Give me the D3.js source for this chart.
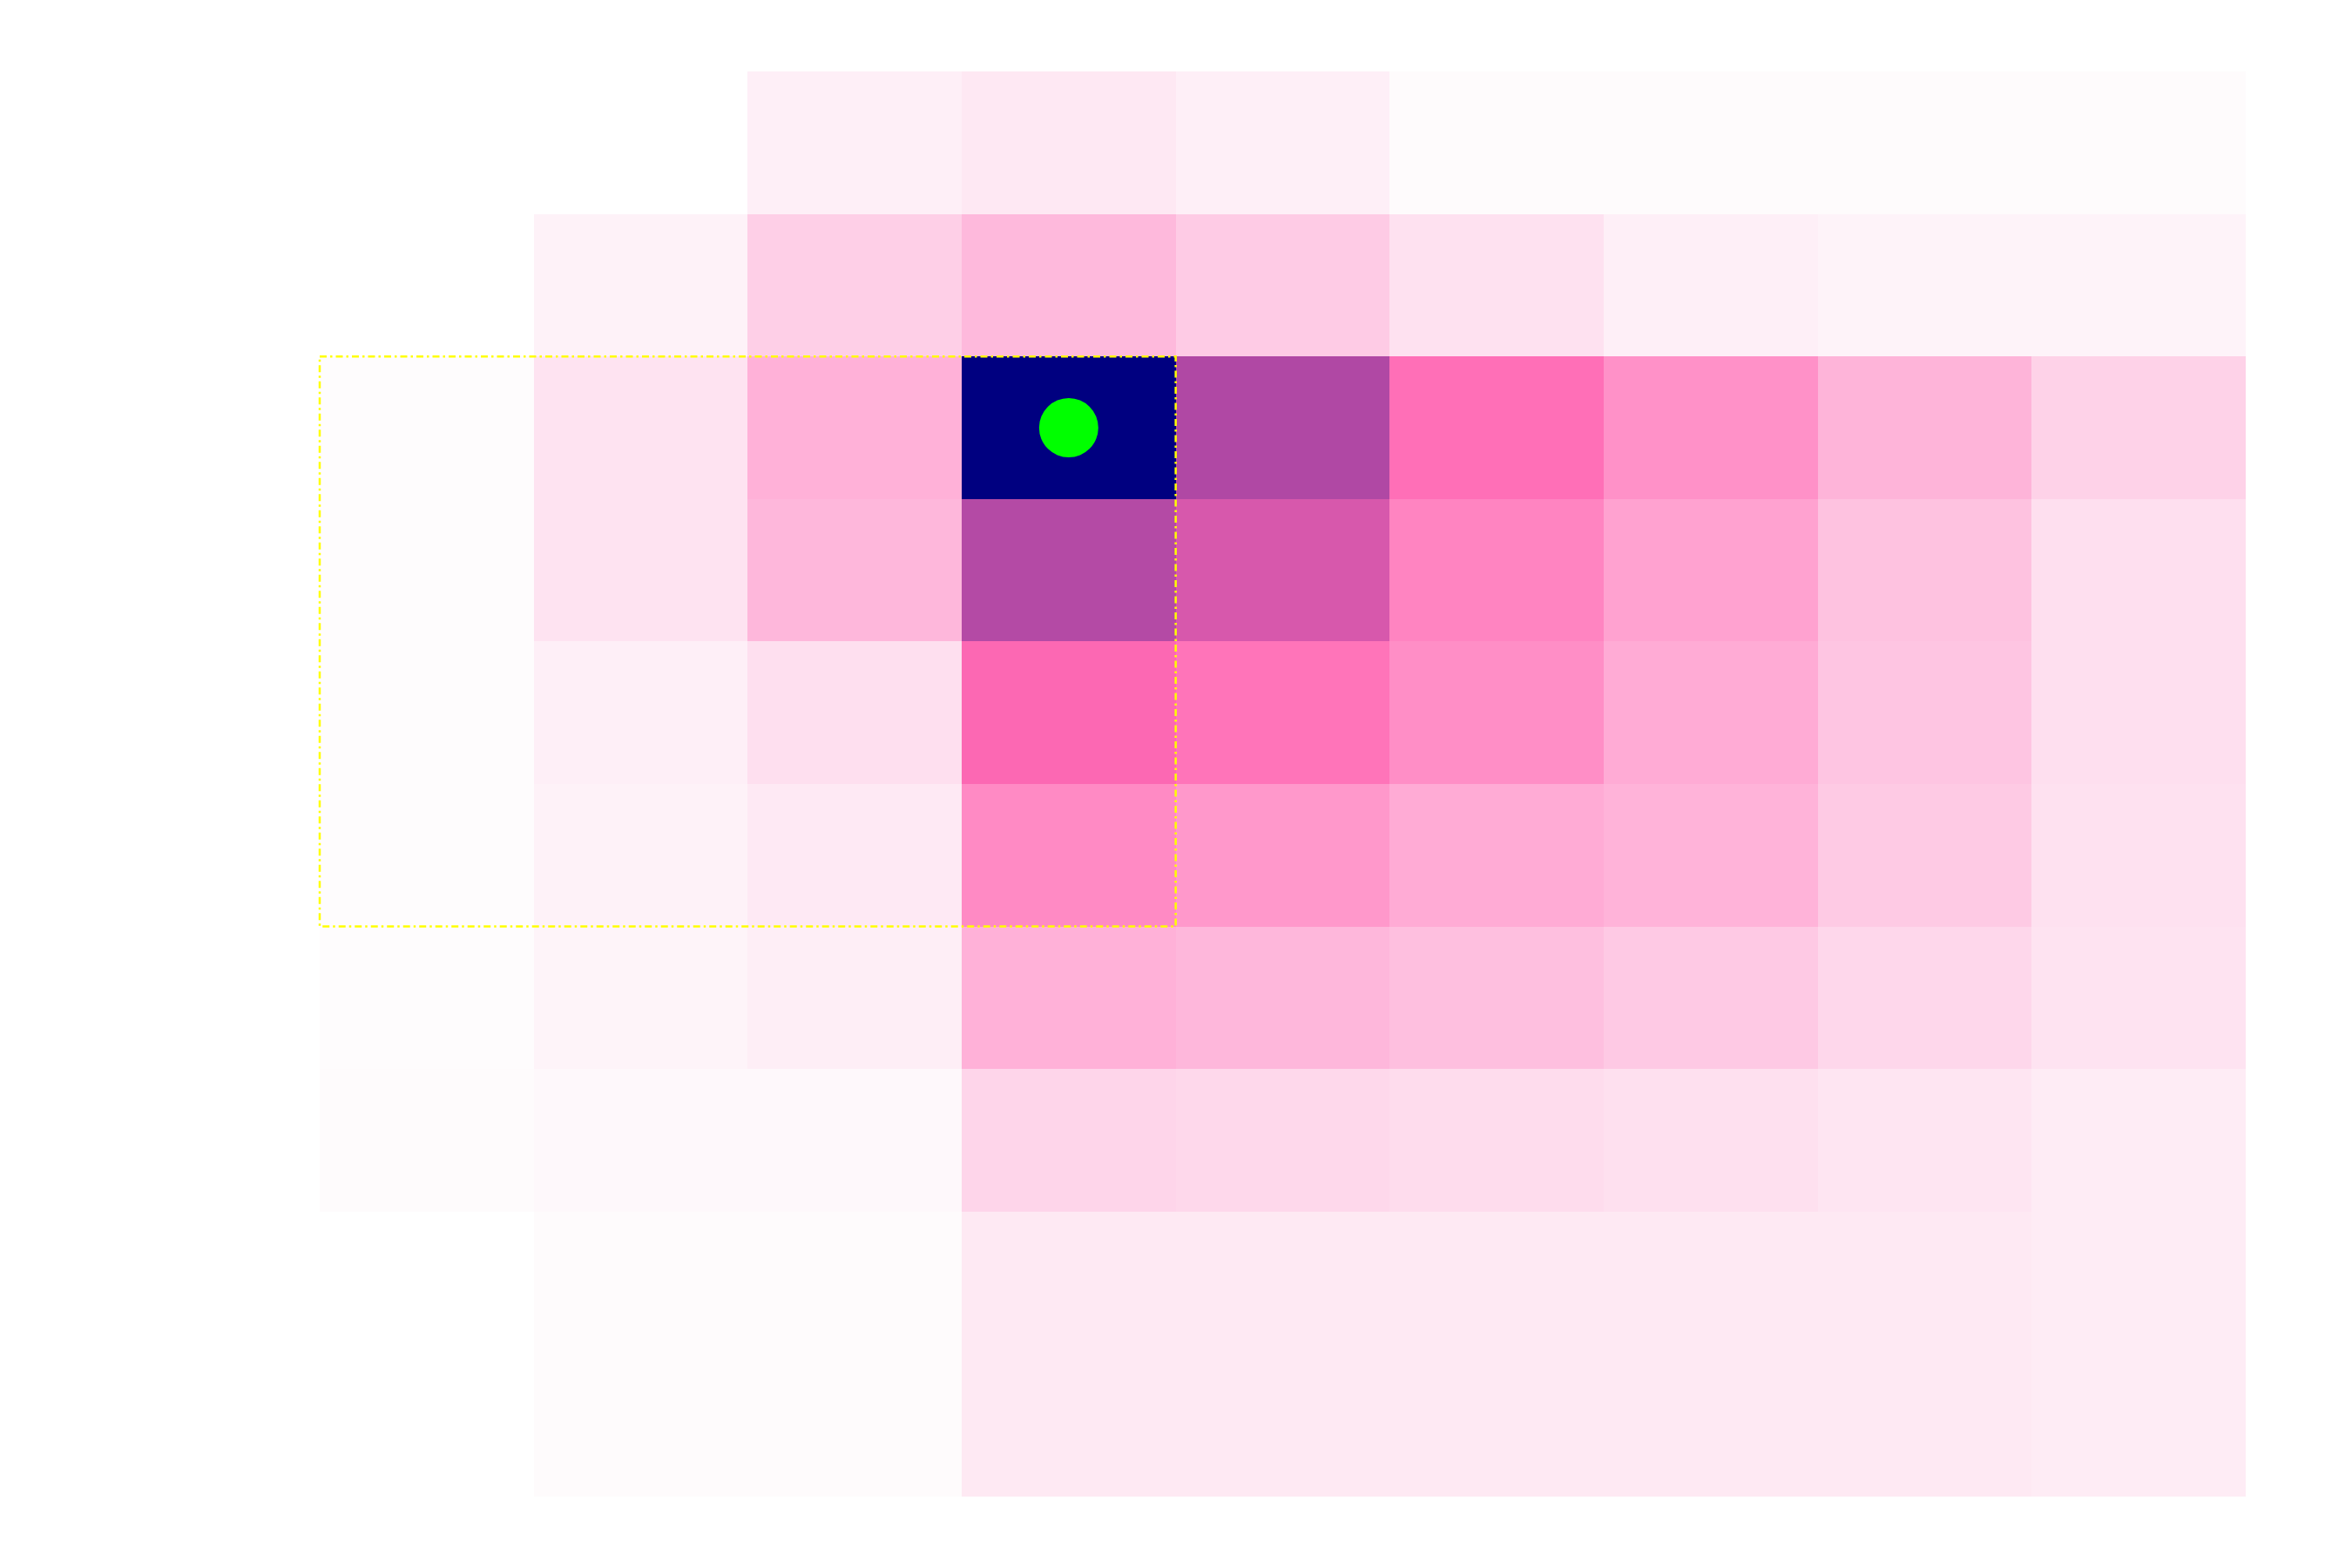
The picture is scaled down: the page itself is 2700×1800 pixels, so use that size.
<!DOCTYPE html>
<html>
<head>
<meta charset="utf-8">
<script src="https://cdn.jsdelivr.net/npm/d3@7"></script>
<style>
  body { margin: 0; background: #ffffff; }
  svg { display: block; }
</style>
</head>
<body>
<svg id="chart" width="2700" height="1800"></svg>
<script>
// bin edges (rows are top to bottom, last bin is twice as tall)
const colEdges = [0, 1, 2, 3, 4, 5, 6, 7, 8, 9];
const rowEdges = [0, 1, 2, 3, 4, 5, 6, 7, 8, 10];

// cell values, null = empty bin
const row0 = [null, null, 6, 8.8, 6, 1.4, 1.4, 1.4, 1.4];
const row1 = [null, 4.8, 18.8, 27.6, 20.4, 11.6, 6, 4.4, 4.4];
const row2 = [1, 10.8, 31.2, 100, 72.4, 57.6, 44, 29.6, 17.6];
const row3 = [1, 10.8, 28.4, 71.8, 66.3, 49.2, 37.2, 24, 12.4];
const row4 = [1, 6, 12.4, 60.5, 55.6, 45.2, 33.6, 22.8, 12.4];
const row5 = [1, 4.8, 8.4, 46.8, 41.2, 33.6, 30.4, 20.8, 11.6];
const row6 = [1, 4, 6.4, 31.2, 28.4, 25.2, 21.2, 15.6, 10.8];
const row7 = [1.3, 2.6, 2.6, 16.4, 15.2, 13.6, 12, 10, 7.2];
const row8 = [null, 1.4, 1.4, 8.6, 8.6, 8.6, 8.6, 8.6, 7.2];
const values = [row0, row1, row2, row3, row4, row5, row6, row7, row8];

// best cell (dot) and highlighted block [col0, col1, row0, row1]
const bestCell = [3, 2];
const region = [0, 4, 2, 6];

const svg = d3.select("#chart");

const x = d3.scaleLinear().domain([0, 9]).range([367, 2578]);
const y = d3.scaleLinear().domain([0, 10]).range([82, 1718]);

const color = d3.scaleLinear()
  .domain([0, 60, 100])
  .range(["#fefefe", "#ff69b4", "#000080"])
  .interpolate(d3.interpolateRgb);

const cells = [];
values.forEach((row, r) => {
  row.forEach((v, c) => {
    if (v !== null) cells.push({ r: r, c: c, v: v });
  });
});

svg.append("g")
  .selectAll("rect")
  .data(cells)
  .join("rect")
  .attr("x", d => x(colEdges[d.c]))
  .attr("y", d => y(rowEdges[d.r]))
  .attr("width", d => x(colEdges[d.c] + 1) - x(colEdges[d.c]))
  .attr("height", d => y(rowEdges[d.r + 1]) - y(rowEdges[d.r]))
  .attr("fill", d => color(d.v))
  .attr("shape-rendering", "crispEdges");

// highlighted block
svg.append("rect")
  .attr("x", x(colEdges[region[0]]))
  .attr("y", y(rowEdges[region[2]]))
  .attr("width", x(colEdges[region[1]]) - x(colEdges[region[0]]))
  .attr("height", y(rowEdges[region[3]]) - y(rowEdges[region[2]]))
  .attr("fill", "none")
  .attr("stroke", "#ffff00")
  .attr("stroke-width", 2.5)
  .attr("stroke-dasharray", "8,4,2.5,4");

// best cell marker
svg.append("circle")
  .attr("cx", (x(colEdges[bestCell[0]]) + x(colEdges[bestCell[0]] + 1)) / 2)
  .attr("cy", (y(rowEdges[bestCell[1]]) + y(rowEdges[bestCell[1] + 1])) / 2)
  .attr("r", 34)
  .attr("fill", "#00ff00");
</script>
</body>
</html>
